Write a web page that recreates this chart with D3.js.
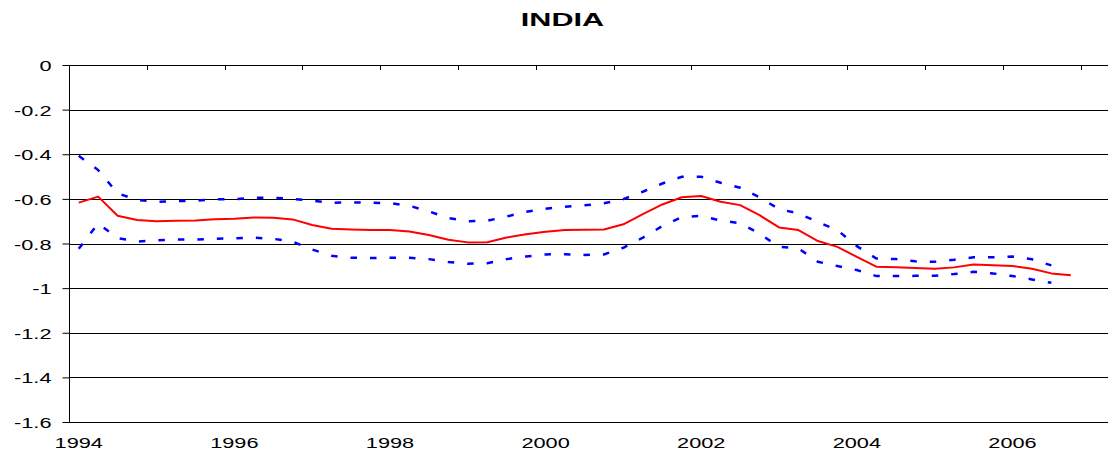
<!DOCTYPE html>
<html>
<head>
<meta charset="utf-8">
<script src="https://cdn.jsdelivr.net/npm/d3@7/dist/d3.min.js"></script>
<style>
  html, body { margin: 0; padding: 0; background: #fff; }
  svg { display: block; }
  text { font-family: "Liberation Sans", Arial, sans-serif; fill: #000; }
</style>
</head>
<body>
<svg id="chart" width="1109" height="454"></svg>
<script>
// Quarterly categories 1994Q1 .. 2007Q1
const categories = [
  "1994Q1","1994Q2","1994Q3","1994Q4","1995Q1","1995Q2","1995Q3","1995Q4",
  "1996Q1","1996Q2","1996Q3","1996Q4","1997Q1","1997Q2","1997Q3","1997Q4",
  "1998Q1","1998Q2","1998Q3","1998Q4","1999Q1","1999Q2","1999Q3","1999Q4",
  "2000Q1","2000Q2","2000Q3","2000Q4","2001Q1","2001Q2","2001Q3","2001Q4",
  "2002Q1","2002Q2","2002Q3","2002Q4","2003Q1","2003Q2","2003Q3","2003Q4",
  "2004Q1","2004Q2","2004Q3","2004Q4","2005Q1","2005Q2","2005Q3","2005Q4",
  "2006Q1","2006Q2","2006Q3","2006Q4","2007Q1"
];

// Central estimate (red)
const estimate = [
  -0.617,-0.590,-0.676,-0.695,-0.700,-0.698,-0.697,-0.691,
  -0.689,-0.683,-0.685,-0.692,-0.717,-0.734,-0.737,-0.740,
  -0.740,-0.746,-0.762,-0.783,-0.795,-0.794,-0.773,-0.759,
  -0.747,-0.740,-0.738,-0.737,-0.714,-0.668,-0.625,-0.593,
  -0.587,-0.613,-0.628,-0.673,-0.728,-0.740,-0.789,-0.815,
  -0.860,-0.904,-0.907,-0.910,-0.913,-0.907,-0.894,-0.898,
  -0.901,-0.913,-0.934,-0.942
];

// Upper band (blue dashed)
const upper = [
  -0.407,-0.471,-0.575,-0.605,-0.613,-0.610,-0.608,-0.602,
  -0.601,-0.595,-0.595,-0.600,-0.608,-0.617,-0.616,-0.617,
  -0.619,-0.631,-0.656,-0.686,-0.700,-0.698,-0.679,-0.658,
  -0.644,-0.635,-0.629,-0.620,-0.601,-0.568,-0.531,-0.501,
  -0.501,-0.528,-0.550,-0.593,-0.646,-0.665,-0.704,-0.740,
  -0.812,-0.867,-0.870,-0.880,-0.882,-0.873,-0.862,-0.862,
  -0.858,-0.871,-0.898
];

// Lower band (blue dashed)
const lower = [
  -0.824,-0.710,-0.776,-0.791,-0.786,-0.782,-0.782,-0.779,
  -0.777,-0.774,-0.779,-0.792,-0.827,-0.855,-0.864,-0.865,
  -0.864,-0.864,-0.870,-0.883,-0.891,-0.888,-0.870,-0.858,
  -0.849,-0.848,-0.851,-0.849,-0.819,-0.774,-0.722,-0.682,
  -0.676,-0.697,-0.709,-0.756,-0.815,-0.822,-0.882,-0.901,
  -0.919,-0.946,-0.946,-0.945,-0.945,-0.937,-0.927,-0.934,
  -0.946,-0.961,-0.976
];

const yTicks = [0, -0.2, -0.4, -0.6, -0.8, -1, -1.2, -1.4, -1.6];
const xTickLabels = ["1994","1996","1998","2000","2002","2004","2006"];
const chartTitle = "INDIA";

(function () {
  // ---- layout ----
  const W = 1109;
  const mLeft = 69, mRight = 1100, gridRight = 1108, mTop = 65, mBottom = 422;
  const SX = 1.45; // horizontal text stretch of the original picture

  const svg = d3.select("#chart");

  const x = d3.scaleBand().domain(categories).range([mLeft, mRight]).padding(0);
  const y = d3.scaleLinear().domain([-1.6, 0]).range([mBottom, mTop]);
  const cx = c => x(c) + x.bandwidth() / 2;

  // Title
  svg.append("text")
    .attr("transform", `translate(${W / 2 + 8},26) scale(1.7,1)`)
    .attr("text-anchor", "middle")
    .style("font-weight", "bold")
    .style("font-size", "18px")
    .text(chartTitle);

  // Gridlines
  svg.append("g").selectAll("line")
    .data(yTicks)
    .join("line")
    .attr("x1", mLeft).attr("x2", gridRight)
    .attr("y1", d => Math.round(y(d)) + 0.5).attr("y2", d => Math.round(y(d)) + 0.5)
    .attr("stroke", "#000").attr("stroke-width", 1);

  // Y axis
  const yAxis = svg.append("g")
    .attr("transform", `translate(${mLeft + 0.5},0)`)
    .call(d3.axisLeft(y).tickValues(yTicks).tickSize(7).tickSizeOuter(0)
      .tickFormat(d => String(+d.toFixed(1))));
  yAxis.select(".domain").attr("stroke", "#000").attr("d", `M0,${mTop}V${mBottom}`);
  yAxis.selectAll(".tick line").attr("stroke", "#000");
  yAxis.selectAll(".tick text")
    .attr("x", null).attr("dy", null)
    .attr("transform", `translate(-18,5.5) scale(${SX},1)`)
    .attr("text-anchor", "end")
    .attr("fill", "#000")
    .style("font-size", "15px")
    .style("font-family", "'Liberation Sans', Arial, sans-serif");

  // X axis tick marks at value 0 (every 4 quarters, at category boundaries)
  const tickCats = categories.filter((c, i) => i % 4 === 0);
  svg.append("g").selectAll("line")
    .data(tickCats)
    .join("line")
    .attr("x1", d => Math.round(x(d)) + 0.5).attr("x2", d => Math.round(x(d)) + 0.5)
    .attr("y1", y(0)).attr("y2", y(0) + 5)
    .attr("stroke", "#000");

  // X labels at bottom (every 8 quarters, centred in category)
  const labelCats = categories.filter((c, i) => i % 8 === 0);
  const xAxis = svg.append("g")
    .attr("transform", `translate(0,${mBottom})`)
    .call(d3.axisBottom(x).tickValues(labelCats).tickSize(0)
      .tickFormat((d, i) => xTickLabels[i]));
  xAxis.select(".domain").remove();
  xAxis.selectAll(".tick text")
    .attr("y", null).attr("dy", null)
    .attr("transform", `translate(0,26) scale(${SX},1)`)
    .attr("text-anchor", "middle")
    .attr("fill", "#000")
    .style("font-size", "15px")
    .style("font-family", "'Liberation Sans', Arial, sans-serif");

  // Lines
  const line = d3.line()
    .x((d, i) => cx(categories[i]))
    .y(d => y(d));

  svg.append("path").datum(upper)
    .attr("d", line).attr("fill", "none")
    .attr("stroke", "#0000ff").attr("stroke-width", 2.5)
    .attr("stroke-dasharray", "6.5,13");

  svg.append("path").datum(lower)
    .attr("d", line).attr("fill", "none")
    .attr("stroke", "#0000ff").attr("stroke-width", 2.5)
    .attr("stroke-dasharray", "6.5,13");

  svg.append("path").datum(estimate)
    .attr("d", line).attr("fill", "none")
    .attr("stroke", "#ff0000").attr("stroke-width", 2)
    .attr("stroke-linejoin", "round");
})();
</script>
</body>
</html>
